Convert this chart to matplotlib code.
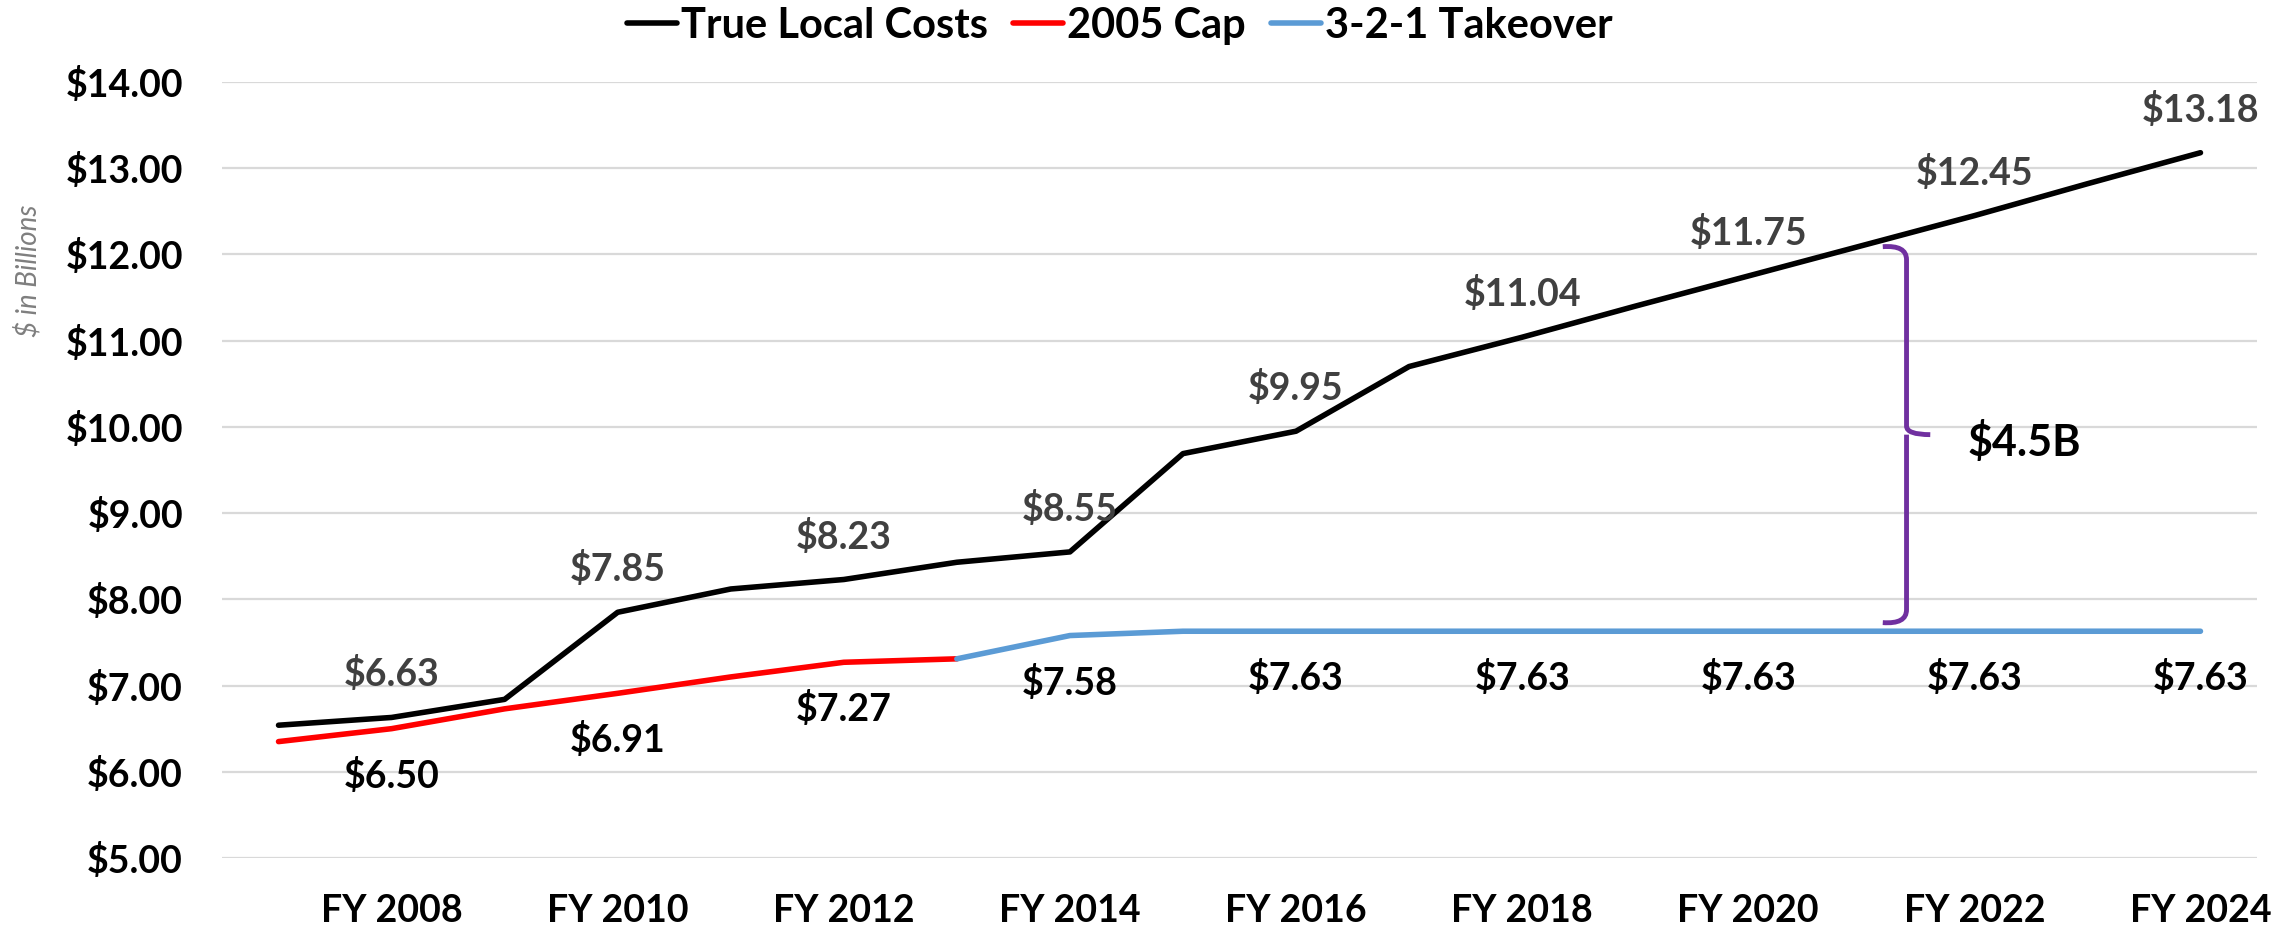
import matplotlib
matplotlib.use("Agg")
import matplotlib.pyplot as plt
from matplotlib.path import Path
from matplotlib.patches import PathPatch

# Data (FY 2007 .. FY 2024)
years = list(range(2007, 2025))
true_local_costs = [6.54, 6.63, 6.84, 7.85, 8.12, 8.23, 8.43, 8.55, 9.69, 9.95,
                    10.70, 11.04, 11.40, 11.75, 12.10, 12.45, 12.82, 13.18]
cap_2005 = [6.35, 6.50, 6.73, 6.91, 7.10, 7.27, 7.31]           # FY 2007 .. FY 2013
takeover_321 = [7.31, 7.58, 7.63, 7.63, 7.63, 7.63, 7.63, 7.63,
                7.63, 7.63, 7.63, 7.63]                          # FY 2013 .. FY 2024
y_ticks = [5, 6, 7, 8, 9, 10, 11, 12, 13, 14]
gap_label = "$4.5B"

FONT = "Lato"


def add_labels(ax, xs, ys, start, color, offset):
    """Puts a dollar label on every other point (the even fiscal years)."""
    for x, y in zip(xs, ys):
        if years[x] % 2 == 0 and x >= start:
            ax.annotate(f"${y:.2f}", (x, y), xytext=(0, offset),
                        textcoords="offset pixels", ha="center", va="center",
                        fontsize=27, fontweight="bold", color=color,
                        family=FONT)


def draw_brace(ax, x, top, mid, bottom):
    """Purple curly brace between the two lines."""
    dx = 0.21
    verts = [(x - dx, top), (x, top + 0.02), (x, top - 0.15),
             (x, mid + 0.10),
             (x, mid), (x + dx, mid),
             (x, mid), (x, mid - 0.10),
             (x, bottom + 0.15),
             (x, bottom - 0.02), (x - dx, bottom)]
    codes = [Path.MOVETO, Path.CURVE3, Path.CURVE3,
             Path.LINETO,
             Path.CURVE3, Path.CURVE3,
             Path.MOVETO, Path.LINETO,
             Path.LINETO,
             Path.CURVE3, Path.CURVE3]
    ax.add_patch(PathPatch(Path(verts, codes), facecolor="none",
                           edgecolor="#7030A0", lw=3.5, capstyle="butt"))


def main():
    fig = plt.figure(figsize=(22.9, 9.3), dpi=100)
    ax = fig.add_axes([222 / 2290, 1 - 858 / 930, 2035 / 2290, 776 / 930])

    idx = list(range(len(years)))
    cap_idx = idx[:len(cap_2005)]
    take_idx = idx[len(cap_2005) - 1:]

    ax.plot(idx, true_local_costs, color="black", lw=4, label="True Local Costs",
            solid_capstyle="round", zorder=3)
    ax.plot(cap_idx, cap_2005, color="#FF0000", lw=4, label="2005 Cap",
            solid_capstyle="round", zorder=3)
    ax.plot(take_idx, takeover_321, color="#5B9BD5", lw=4, label="3-2-1 Takeover",
            solid_capstyle="round", zorder=3)

    add_labels(ax, idx, true_local_costs, 0, "#404040", 43)
    add_labels(ax, cap_idx, cap_2005, 0, "black", -47)
    add_labels(ax, take_idx, takeover_321, 1, "black", -47)

    draw_brace(ax, 14.40, 12.09, 9.91, 7.73)
    ax.text(14.94, 9.83, gap_label, ha="left", va="center", fontsize=31,
            fontweight="bold", family=FONT, color="black")

    ax.set_xlim(-0.5, len(years) - 0.5)
    ax.set_ylim(5, 14)
    ax.set_yticks(y_ticks)
    ax.set_yticklabels([f"${v:.2f}" for v in y_ticks])
    xt = [i for i in idx if years[i] % 2 == 0]
    ax.set_xticks(xt)
    ax.set_xticklabels([f"FY {years[i]}" for i in xt])
    for lab in ax.get_xticklabels() + ax.get_yticklabels():
        lab.set_family(FONT)
        lab.set_fontweight("bold")
        lab.set_fontsize(27)
    ax.tick_params(axis="y", length=0, pad=28)
    ax.tick_params(axis="x", length=0, pad=26)
    ax.grid(axis="y", color="#D9D9D9", lw=1.6)
    ax.set_axisbelow(True)
    for s in ax.spines.values():
        s.set_visible(False)

    fig.text(28 / 2290, 1 - 271 / 930, "$ in Billions", rotation=90,
             ha="center", va="center", fontsize=20, style="italic",
             color="#7F7F7F", family=FONT)

    fig.legend(loc="center", bbox_to_anchor=(1120 / 2290, 1 - 26 / 930), ncol=3,
               frameon=False, prop={"family": FONT, "weight": "bold", "size": 30},
               handlelength=1.2, handletextpad=0.1, columnspacing=0.6)

    fig.savefig("out.png", dpi=100)


main()
